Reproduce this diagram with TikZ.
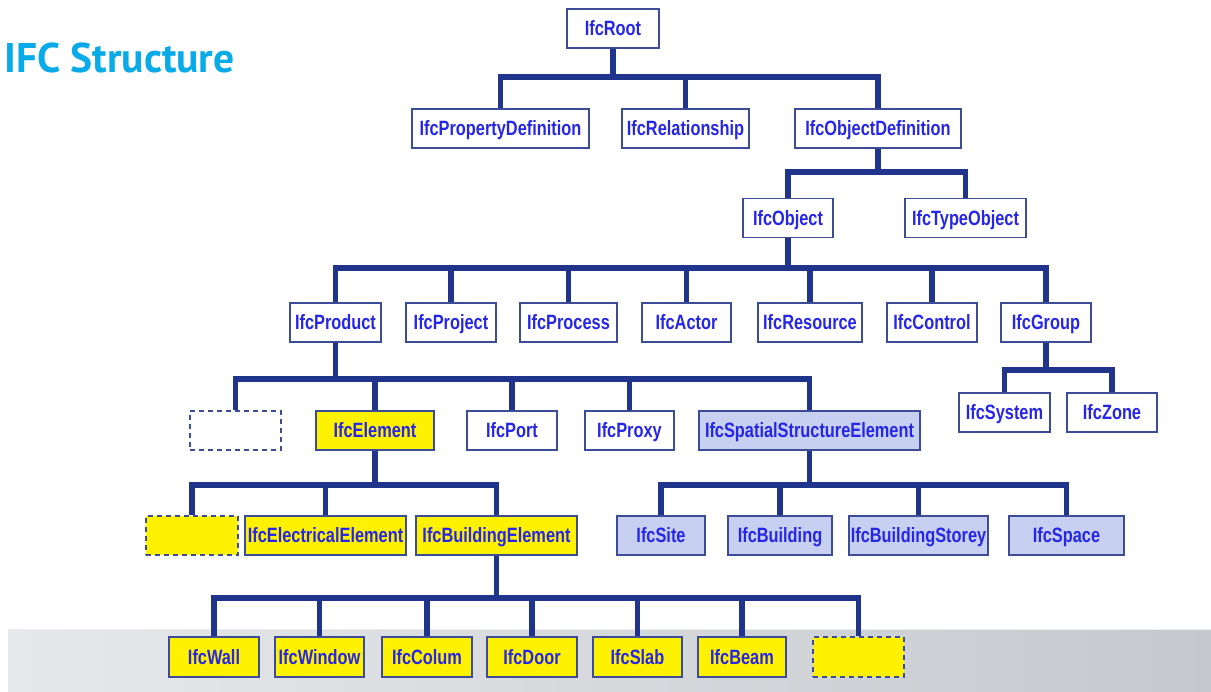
\documentclass[tikz,border=0pt]{standalone}
\usepackage{fontspec}
\newfontfamily\boxfont[FakeStretch=0.79]{Liberation Sans}
\newfontfamily\titlefont{PT Sans}
\definecolor{linkblue}{RGB}{33,52,140}
\definecolor{frameblue}{RGB}{60,76,150}
\definecolor{labelblue}{RGB}{38,38,232}
\definecolor{titlecyan}{RGB}{8,170,232}
\definecolor{lavender}{RGB}{200,208,242}
\definecolor{bandlight}{RGB}{231,232,235}
\definecolor{banddark}{RGB}{197,201,205}
\tikzset{
  cls/.style={draw=frameblue, line width=1.6pt, fill=white, minimum height=39pt,
    inner sep=0pt, text height=14.8pt, text depth=0pt, text=labelblue,
    font=\boxfont\bfseries\fontsize{20.7}{21}\selectfont},
  element/.style={cls, fill=yellow},
  spatial/.style={cls, fill=lavender},
  placeholder/.style={cls, dashed, dash pattern=on 5pt off 4pt},
  link/.style={draw=linkblue, line width=5.5pt, line join=miter, line cap=butt},
}
\newcommand{\branch}[3]{\draw[link] (#1.south) -- (#1.south |- 0,#3) -| (#2.north);}
\begin{document}
\begin{tikzpicture}[x=1pt,y=-1pt]
\useasboundingbox (0,0) rectangle (1211,692);
% floor band
\shade[left color=bandlight, right color=banddark] (8,629) rectangle (1211,692);
\draw[white!85!gray, line width=1pt] (8,629.5) -- (1211,629.5);

% title
\node[anchor=west, text=titlecyan, font=\titlefont\bfseries\fontsize{41.5}{42}\selectfont, inner sep=0pt]
  (title) at (4,58) {IFC Structure};

% level 1-3
\node[cls, minimum width=92pt] (root) at (613,28.5) {IfcRoot};
\node[cls, minimum width=177pt] (propdef) at (500.5,128.5) {IfcPropertyDefinition};
\node[cls, minimum width=127pt] (rel) at (685.5,128.5) {IfcRelationship};
\node[cls, minimum width=166pt] (objdef) at (878,128.5) {IfcObjectDefinition};
\node[cls, minimum width=90pt] (object) at (788,218) {IfcObject};
\node[cls, minimum width=121pt] (typeobj) at (965.5,218) {IfcTypeObject};

% level 4
\node[cls, minimum width=91pt] (product) at (335.5,322.5) {IfcProduct};
\node[cls, minimum width=90pt] (project) at (451,322.5) {IfcProject};
\node[cls, minimum width=97pt] (process) at (568.5,322.5) {IfcProcess};
\node[cls, minimum width=89pt] (actor) at (686.5,322.5) {IfcActor};
\node[cls, minimum width=104pt] (resource) at (810,322.5) {IfcResource};
\node[cls, minimum width=90pt] (control) at (932,322.5) {IfcControl};
\node[cls, minimum width=90pt] (group) at (1046,322.5) {IfcGroup};

% level 5
\node[placeholder, minimum width=91pt] (blank1) at (235.5,430.5) {};
\node[element, minimum width=118pt] (elem) at (375,430.5) {IfcElement};
\node[cls, minimum width=90pt] (port) at (512,430.5) {IfcPort};
\node[cls, minimum width=89pt] (proxy) at (629.5,430.5) {IfcProxy};
\node[spatial, minimum width=221pt] (sse) at (809.5,430.5) {IfcSpatialStructureElement};
\node[cls, minimum width=91pt] (system) at (1004.5,412.5) {IfcSystem};
\node[cls, minimum width=90pt] (zone) at (1112,412.5) {IfcZone};

% level 6
\node[placeholder, fill=yellow, minimum width=92pt] (blank2) at (192,535.5) {};
\node[element, minimum width=161pt] (elec) at (325.5,535.5) {IfcElectricalElement};
\node[element, minimum width=161pt] (bldelem) at (496.5,535.5) {IfcBuildingElement};
\node[spatial, minimum width=88pt] (site) at (661,535.5) {IfcSite};
\node[spatial, minimum width=104pt] (bld) at (780,535.5) {IfcBuilding};
\node[spatial, minimum width=139pt] (storey) at (918.5,535.5) {IfcBuildingStorey};
\node[spatial, minimum width=115pt] (space) at (1066.5,535.5) {IfcSpace};

% level 7
\node[element, minimum width=90pt, minimum height=40pt] (wall) at (214,657) {IfcWall};
\node[element, minimum width=89pt, minimum height=40pt] (window) at (319.5,657) {IfcWindow};
\node[element, minimum width=90pt, minimum height=40pt] (colum) at (427,657) {IfcColum};
\node[element, minimum width=90pt, minimum height=40pt] (door) at (532,657) {IfcDoor};
\node[element, minimum width=89pt, minimum height=40pt] (slab) at (637.5,657) {IfcSlab};
\node[element, minimum width=88pt, minimum height=40pt] (beam) at (742,657) {IfcBeam};
\node[placeholder, fill=yellow, minimum width=91pt, minimum height=40pt] (blank3) at (858.5,657) {};

% connectors
\foreach \c in {propdef,rel,objdef} {\branch{root}{\c}{77}}
\foreach \c in {object,typeobj} {\branch{objdef}{\c}{172}}
\foreach \c in {product,project,process,actor,resource,control,group} {\branch{object}{\c}{268}}
\foreach \c in {blank1,elem,port,proxy,sse} {\branch{product}{\c}{379}}
\foreach \c in {system,zone} {\branch{group}{\c}{370}}
\foreach \c in {blank2,elec,bldelem} {\branch{elem}{\c}{485}}
\foreach \c in {site,bld,storey,space} {\branch{sse}{\c}{485}}
\foreach \c in {wall,window,colum,door,slab,beam,blank3} {\branch{bldelem}{\c}{598}}
\end{tikzpicture}
\end{document}
